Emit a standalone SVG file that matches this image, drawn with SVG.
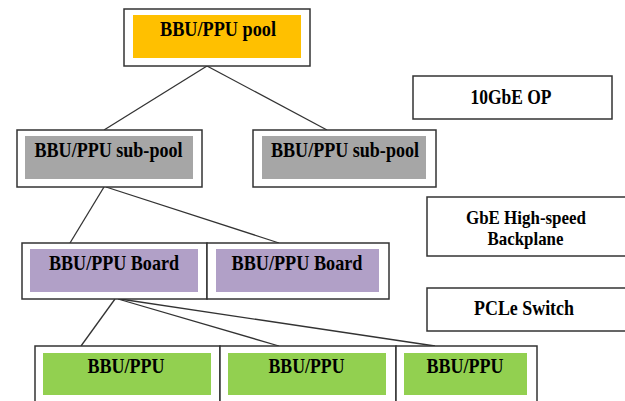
<svg xmlns="http://www.w3.org/2000/svg" width="625" height="401" viewBox="0 0 625 401">
<style>
.box{fill:#fff;stroke:#333;stroke-width:1.5}
.t{font-family:"Liberation Serif","Times New Roman",serif;font-weight:bold;font-size:22px;fill:#000;text-anchor:middle}
.s{font-size:19px}
.m{font-size:20px}
.edge{stroke:#333;stroke-width:1.3;fill:none}
.or{fill:#FFC000}.gr{fill:#A6A6A6}.pu{fill:#B1A0C7}.gn{fill:#92D050}
</style>
<rect width="625" height="401" fill="#fff"/>
<g id="connectors">
<line class="edge" x1="207" y1="66" x2="104" y2="130"/>
<line class="edge" x1="207" y1="66" x2="327" y2="130"/>
<line class="edge" x1="104" y1="187" x2="70" y2="243"/>
<line class="edge" x1="106" y1="187" x2="279" y2="243"/>
<line class="edge" x1="115" y1="299" x2="81" y2="346"/>
<line class="edge" x1="118" y1="299" x2="279" y2="346"/>
<line class="edge" x1="120" y1="299" x2="435" y2="346"/>
</g>
<g id="pool">
<rect class="box" x="124" y="9" width="186" height="57"/>
<rect class="or" x="133" y="15" width="168" height="43"/>
<text class="t" x="218" y="36" textLength="116" lengthAdjust="spacingAndGlyphs">BBU/PPU pool</text>
</g>
<g id="op">
<rect class="box" x="413" y="76" width="199" height="43"/>
<text class="t m" x="511" y="103.5" textLength="81" lengthAdjust="spacingAndGlyphs">10GbE OP</text>
</g>
<g id="subpool1">
<rect class="box" x="17" y="130" width="185" height="57"/>
<rect class="gr" x="25" y="136" width="168" height="43"/>
<text class="t" x="108.5" y="157" textLength="148" lengthAdjust="spacingAndGlyphs">BBU/PPU sub-pool</text>
</g>
<g id="subpool2">
<rect class="box" x="253" y="130" width="183" height="57"/>
<rect class="gr" x="262" y="136" width="164" height="43"/>
<text class="t" x="345" y="157" textLength="148" lengthAdjust="spacingAndGlyphs">BBU/PPU sub-pool</text>
</g>
<g id="backplane">
<rect class="box" x="427" y="197" width="203" height="59"/>
<text class="t s" x="526" y="224" textLength="120" lengthAdjust="spacingAndGlyphs">GbE High-speed</text>
<text class="t s" x="525.5" y="245" textLength="76" lengthAdjust="spacingAndGlyphs">Backplane</text>
</g>
<g id="board1">
<rect class="box" x="22" y="243" width="185" height="56"/>
<rect class="pu" x="30" y="249" width="168" height="43"/>
<text class="t" x="114" y="270" textLength="130" lengthAdjust="spacingAndGlyphs">BBU/PPU Board</text>
</g>
<g id="board2">
<rect class="box" x="207" y="243" width="182" height="56"/>
<rect class="pu" x="216" y="249" width="163" height="43"/>
<text class="t" x="297" y="270" textLength="131" lengthAdjust="spacingAndGlyphs">BBU/PPU Board</text>
</g>
<g id="switch">
<rect class="box" x="427" y="288" width="203" height="43"/>
<text class="t" x="524" y="315" textLength="100" lengthAdjust="spacingAndGlyphs">PCLe Switch</text>
</g>
<g id="ppu1">
<rect class="box" x="35" y="346" width="185" height="60"/>
<rect class="gn" x="43" y="353" width="168" height="42"/>
<text class="t" x="126" y="373" textLength="77" lengthAdjust="spacingAndGlyphs">BBU/PPU</text>
</g>
<g id="ppu2">
<rect class="box" x="220" y="346" width="176" height="60"/>
<rect class="gn" x="228" y="353" width="158" height="42"/>
<text class="t" x="306.5" y="373" textLength="76" lengthAdjust="spacingAndGlyphs">BBU/PPU</text>
</g>
<g id="ppu3">
<rect class="box" x="396" y="346" width="141" height="60"/>
<rect class="gn" x="404" y="353" width="123" height="42"/>
<text class="t" x="465" y="373" textLength="77" lengthAdjust="spacingAndGlyphs">BBU/PPU</text>
</g>
</svg>
